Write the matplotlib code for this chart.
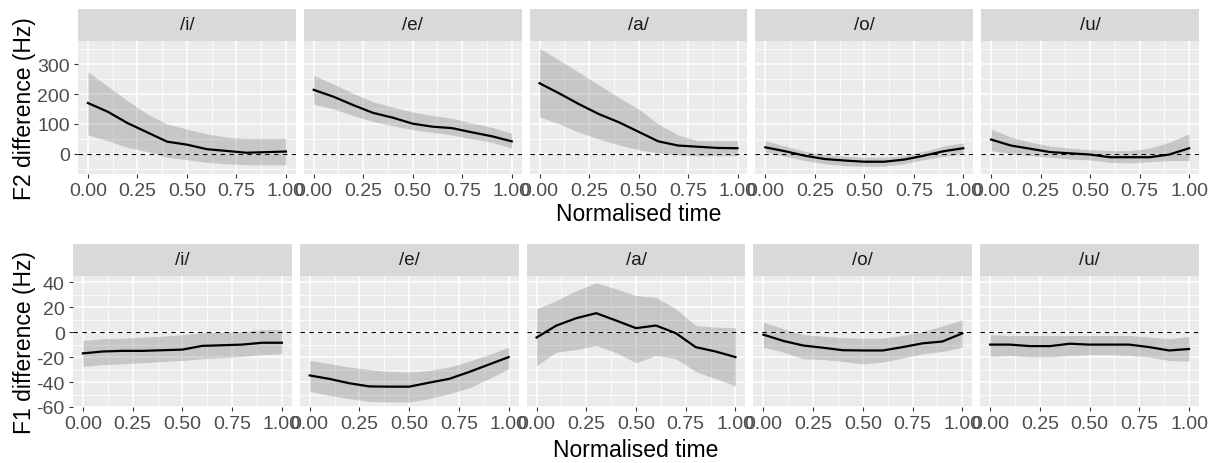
import matplotlib
matplotlib.use("Agg")
import matplotlib.pyplot as plt

plt.rcParams['font.family'] = ['Liberation Sans', 'DejaVu Sans']
plt.rcParams['axes.unicode_minus'] = False

W, H = 1219, 464

vowels = ['/i/', '/e/', '/a/', '/o/', '/u/']
time = [0.0, 0.1, 0.2, 0.3, 0.4, 0.5, 0.6, 0.7, 0.8, 0.9, 1.0]

# F2 difference (Hz), one list per vowel
f2_mean = [
    [170, 141, 103, 72, 41, 31, 16, 10, 4, 6, 8],
    [214, 191, 163, 137, 121, 101, 91, 86, 72, 59, 42],
    [236, 202, 166, 133, 106, 74, 42, 28, 24, 20, 19],
    [22, 9, -6, -17, -22, -26, -26, -19, -6, 9, 19],
    [48, 28, 17, 6, 2, -2, -11, -11, -11, -2, 19],
]
f2_upper = [
    [274, 226, 178, 133, 100, 83, 67, 56, 52, 52, 52],
    [263, 233, 202, 174, 156, 140, 128, 119, 103, 89, 69],
    [352, 313, 272, 230, 189, 150, 100, 63, 44, 44, 44],
    [44, 26, 9, -2, -8, -11, -11, -6, 9, 26, 37],
    [83, 56, 39, 26, 19, 14, 11, 11, 19, 39, 67],
]
f2_lower = [
    [64, 44, 22, 8, -11, -19, -28, -33, -36, -36, -36],
    [166, 150, 128, 108, 94, 81, 72, 63, 50, 39, 19],
    [124, 100, 72, 50, 30, 14, 3, -3, -6, -6, -6],
    [6, -8, -22, -33, -39, -41, -41, -33, -19, -8, 0],
    [11, 0, -6, -11, -17, -20, -28, -30, -26, -22, -22],
]

# F1 difference (Hz)
f1_mean = [
    [-17, -15.5, -15, -15, -14.5, -14, -11, -10.5, -10, -8.5, -8.5],
    [-34.7, -37.5, -41, -43.5, -43.7, -43.7, -40.5, -37.5, -32, -26, -20],
    [-4.3, 5.3, 11.2, 15.2, 9.3, 3.2, 5.3, -0.8, -12, -15.5, -20],
    [-2, -7, -10.7, -12.5, -14.5, -14.7, -14.7, -12, -9, -7.5, -1],
    [-10, -10, -11.2, -11.2, -9.3, -10, -10, -10, -12, -14.7, -13.5],
]
f1_upper = [
    [-6.7, -5.3, -4.8, -4, -3.2, -2, -0.5, 0, 0.5, 2, 2],
    [-22.7, -25.3, -28, -30, -31.5, -32, -30.7, -28, -23.5, -18, -12],
    [18.7, 25.3, 33.3, 39.5, 34.7, 29.3, 28, 18.7, 5.3, 4, 3.5],
    [8, 2.7, -2, -3.2, -4.5, -4.8, -4.8, -2.7, 0.5, 4.8, 9.9],
    [-2, -2.7, -2.7, -2.7, -2.7, -2.7, -2.7, -2.7, -4, -5.3, -3.5],
]
f1_lower = [
    [-27.5, -26, -25.3, -24.5, -23.5, -22.7, -21.3, -20.5, -19.5, -18, -17.3],
    [-47.5, -50.7, -53.3, -55.5, -56, -56, -53.3, -49.3, -44.8, -37.3, -29.3],
    [-26.7, -16, -13.9, -10.7, -16.5, -24.5, -18.7, -21.3, -31.5, -37.3, -43.2],
    [-12, -16, -21.3, -21.9, -23.5, -25.3, -24, -20.8, -17.3, -15.5, -12],
    [-19.5, -18.7, -20, -20, -18.7, -18, -18, -18.7, -20, -22.7, -23.2],
]

x_ticks = [0, 0.25, 0.5, 0.75, 1.0]
x_labels = ['0.00', '0.25', '0.50', '0.75', '1.00']
x_minor = [0.125, 0.375, 0.625, 0.875]

fig = plt.figure(figsize=(W / 100, H / 100), dpi=100)


def rect(x0, y0, x1, y1):
    # pixel box (top-left origin) -> figure fraction
    return [x0 / W, 1 - y1 / H, (x1 - x0) / W, (y1 - y0) / H]


def draw_row(mean, lower, upper, left, width, strip_top, top, bottom,
             ylim, yticks, yminor, ylabel, ylab_y, xlab_y):
    gap = 8
    for k, v in enumerate(vowels):
        x0 = left + k * (width + gap)
        x1 = x0 + width
        # strip
        s = fig.add_axes(rect(x0, strip_top, x1, top))
        s.set_facecolor('#D9D9D9')
        s.set_xticks([])
        s.set_yticks([])
        for sp in s.spines.values():
            sp.set_visible(False)
        s.text(0.5, 0.5, v, ha='center', va='center', fontsize=13.5,
               color='#1A1A1A', transform=s.transAxes)

        ax = fig.add_axes(rect(x0, top, x1, bottom))
        ax.set_facecolor('#EBEBEB')
        for sp in ax.spines.values():
            sp.set_visible(False)
        ax.set_xlim(-0.05, 1.05)
        ax.set_ylim(*ylim)
        ax.set_xticks(x_ticks)
        ax.set_xticklabels(x_labels)
        ax.set_xticks(x_minor, minor=True)
        ax.set_yticks(yticks)
        ax.set_yticks(yminor, minor=True)
        ax.grid(True, which='major', color='white', lw=1.1)
        ax.grid(True, which='minor', color='white', lw=0.55)
        ax.set_axisbelow(True)
        ax.tick_params(which='major', length=3, width=0.8, color='#333333',
                       labelsize=14, labelcolor='#4D4D4D', pad=3)
        ax.tick_params(which='minor', length=0)
        if k > 0:
            ax.tick_params(axis='y', which='major', labelleft=False, length=0)

        ax.fill_between(time, lower[k], upper[k], color='#333333',
                        alpha=0.2, lw=0)
        ax.axhline(0, color='black', lw=0.8, ls=(0, (4, 4)))
        ax.plot(time, mean[k], color='black', lw=1.6)

    fig.text(25 / W, 1 - ylab_y / H, ylabel, rotation=90, ha='center',
             va='center', fontsize=16.5, color='black')
    fig.text((left + (5 * width + 4 * gap) / 2) / W, 1 - xlab_y / H,
             'Normalised time', ha='center', va='center', fontsize=16.5,
             color='black')


draw_row(f2_mean, f2_lower, f2_upper, 78, 217.8, 10, 42, 175,
         (-67, 377), [0, 100, 200, 300], [-50, 50, 150, 250, 350],
         'F2 difference (Hz)', 108.5, 215)
draw_row(f1_mean, f1_lower, f1_upper, 73, 218.8, 245, 277, 408,
         (-60, 45), [-60, -40, -20, 0, 20, 40], [-50, -30, -10, 10, 30],
         'F1 difference (Hz)', 342.5, 451)

fig.savefig('out.png', dpi=100)
